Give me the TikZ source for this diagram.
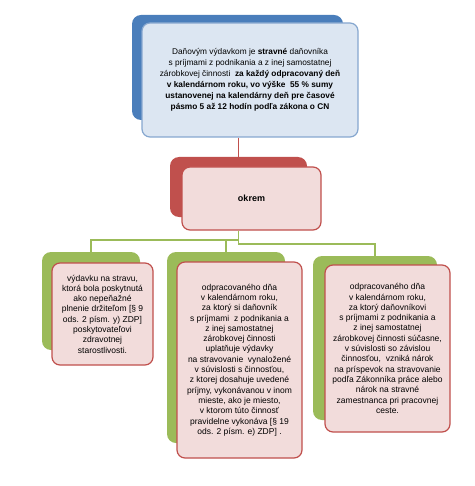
\documentclass[tikz,border=0pt]{standalone}
\usepackage{fontspec}
\setmainfont{Liberation Sans}
\usepackage{tikz}
\usetikzlibrary{positioning}
\definecolor{backblue}{HTML}{4A7EBB}
\definecolor{faceblue}{HTML}{DCE6F2}
\definecolor{edgeblue}{HTML}{86A7CF}
\definecolor{redline}{HTML}{C0504D}
\definecolor{facepink}{HTML}{F2DCDB}
\definecolor{leafgreen}{HTML}{9BBB59}
\tikzset{
  shadowbox/.style={rounded corners=9pt, inner sep=0pt},
  blueback/.style={shadowbox, fill=backblue},
  redback/.style={shadowbox, fill=redline},
  greenback/.style={shadowbox, fill=leafgreen},
  facebox/.style={rounded corners=8pt, inner sep=0pt, align=center, line width=1.2pt},
  blueface/.style={facebox, draw=edgeblue, fill=faceblue, font=\fontsize{8.3}{11}\selectfont},
  pinkface/.style={facebox, draw=redline, fill=facepink, font=\fontsize{8.5}{10.3}\selectfont},
  redconn/.style={draw=redline, line width=1.6pt},
  greenconn/.style={draw=leafgreen, line width=1.6pt}
}

\begin{document}
\begin{tikzpicture}[x=1pt,y=-1pt]
  \useasboundingbox (0,0) rectangle (474,486);
  \node[blueback, minimum width=211pt, minimum height=105pt] (topback) at (237.5,67.5) {};
  \node[blueface, minimum width=216pt, minimum height=114pt] (top) at (250,80)
    {Daňovým výdavkom je \textbf{stravné} daňovníka\\
     s príjmami z podnikania a z inej samostatnej\\
     zárobkovej činnosti \ \textbf{za každý odpracovaný deň}\\
     \textbf{v kalendárnom roku, vo výške \ 55 \% sumy}\\
     \textbf{ustanovenej na kalendárny deň pre časové}\\
     \textbf{pásmo 5 až 12 hodín podľa zákona o CN}};
  \node[redback, minimum width=137pt, minimum height=60pt] (okremback) at (238.5,187) {};
  \node[pinkface, minimum width=139pt, minimum height=63pt, font=\fontsize{9}{11}\selectfont\bfseries] (okrem) at (251.5,198.5) {okrem};

  \node[greenback, minimum width=98pt, minimum height=98pt] (leftback) at (91,301) {};
  \node[pinkface, minimum width=101pt, minimum height=102pt] (leftbox) at (102.5,314)
    {výdavku na stravu,\\ ktorá bola poskytnutá\\ ako nepeňažné\\ plnenie držiteľom [§ 9\\
     ods. 2 písm. y) ZDP]\\ poskytovateľovi\\ zdravotnej\\ starostlivosti.};
  \node[greenback, minimum width=118pt, minimum height=191pt] (midback) at (226,347.5) {};
  \node[pinkface, minimum width=125pt, minimum height=196pt] (midbox) at (239.5,360)
    {odpracovaného dňa\\ v kalendárnom roku,\\ za ktorý si daňovník\\ s príjmami \ z podnikania a\\
     z inej samostatnej\\ zárobkovej činnosti\\ uplatňuje výdavky\\ na stravovanie \ vynaložené\\
     v súvislosti s činnosťou,\\ z ktorej dosahuje uvedené\\ príjmy, vykonávanou v inom\\
     mieste, ako je miesto,\\ v ktorom túto činnosť\\ pravidelne vykonáva [§ 19\\ ods. 2 písm. e) ZDP] .};
  \node[greenback, minimum width=124pt, minimum height=164pt] (rightback) at (375,338) {};
  \node[pinkface, minimum width=125pt, minimum height=167pt] (rightbox) at (387.5,348.5)
    {odpracovaného dňa\\ v kalendárnom roku,\\ za ktorý daňovníkovi\\ s príjmami z podnikania a\\
     z inej samostatnej\\ zárobkovej činnosti súčasne,\\ v súvislosti so závislou\\
     činnosťou, \ vzniká nárok\\ na príspevok na stravovanie\\ podľa Zákonníka práce alebo\\
     nárok na stravné\\ zamestnanca pri pracovnej\\ ceste.};

  \coordinate (hub) at (238.5,244);
  \coordinate (lefthub) at (238.5,240);
  \draw[redconn] (top.south -| okremback.north) -- (okremback.north);
  \draw[greenconn] (okremback.south |- okrem.south) -- (hub) -| (rightback.north);
  \draw[greenconn] (leftback.north) |- (lefthub);
  \draw[greenconn] (midback.north) -- (midback.north |- lefthub);
\end{tikzpicture}
\end{document}
